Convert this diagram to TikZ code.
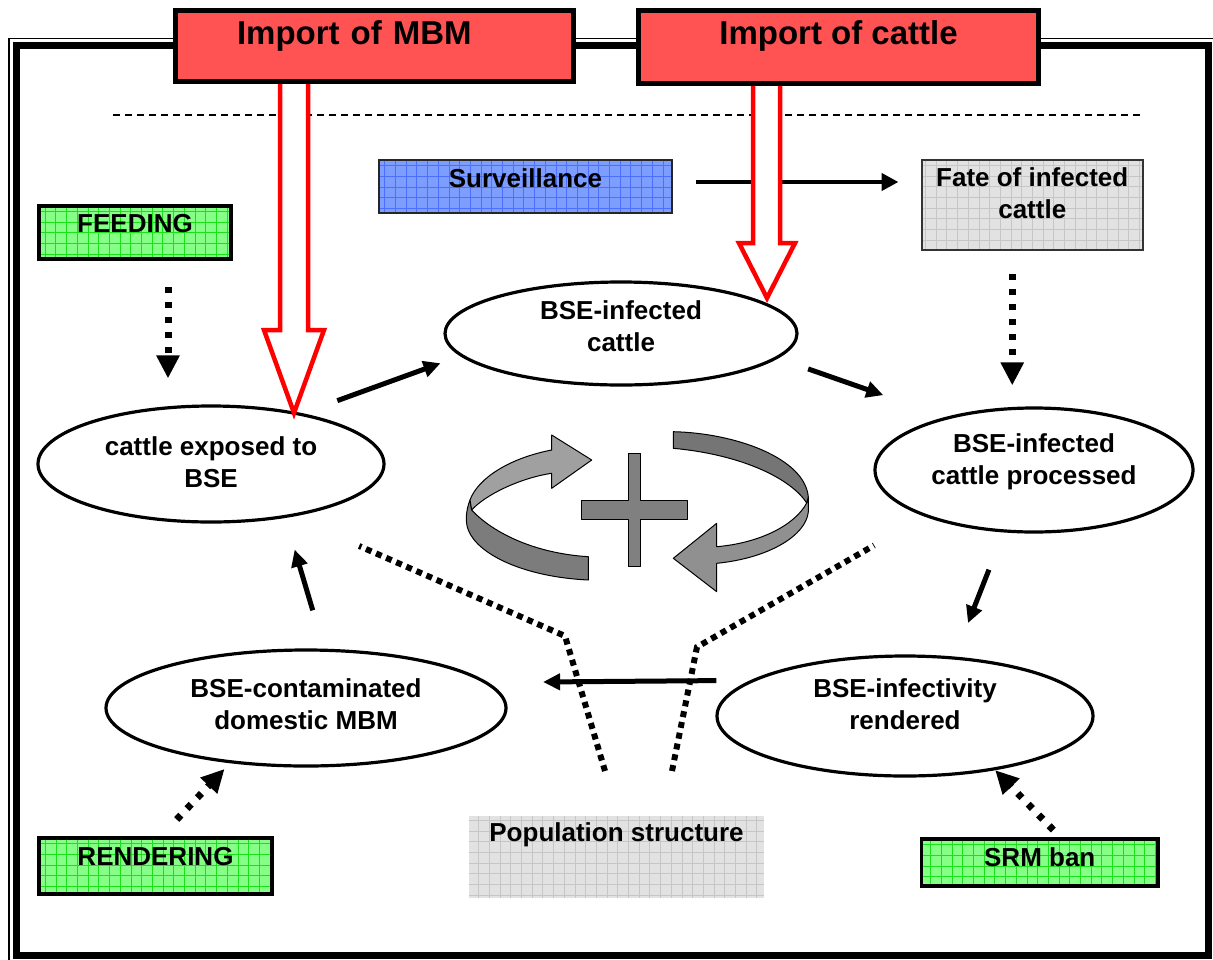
\documentclass[tikz,border=0pt]{standalone}
\usepackage{fontspec}
\setmainfont{Liberation Sans}
\usetikzlibrary{arrows.meta,shapes.geometric}
\definecolor{ImportRed}{HTML}{FF5353}
\definecolor{ArrowRed}{HTML}{FF0000}
\definecolor{FeedGreen}{HTML}{86FF86}
\definecolor{GridGreen}{HTML}{19E019}
\definecolor{SurvBlue}{HTML}{7D9DFF}
\definecolor{GridBlue}{HTML}{4D6FFF}
\definecolor{PaleGray}{HTML}{E2E2E2}
\definecolor{GridGray}{HTML}{C6C6C6}
\definecolor{RibbonLight}{HTML}{A0A0A0}
\definecolor{RibbonDark}{HTML}{7C7C7C}
\tikzset{gridded/.style={path picture={\draw[#1,line width=.8pt] (path picture bounding box.south west) grid[step=10.7pt] (path picture bounding box.north east);}},
  titlebox/.style={draw=black,line width=5pt,fill=ImportRed,inner ysep=4pt,font=\bfseries\fontsize{33}{38}\selectfont},
  greenbox/.style={draw=black,line width=3.6pt,fill=FeedGreen,gridded=GridGreen,inner ysep=3pt},
  bluebox/.style={draw=black!85,line width=2pt,fill=SurvBlue,gridded=GridBlue,inner ysep=3pt},
  graybox/.style={draw=black!80,line width=2pt,fill=PaleGray,gridded=GridGray,inner ysep=3pt},
  stage/.style={draw=black,line width=3.2pt,ellipse,inner sep=0pt,text height=20pt},
  arr/.style={line width=5pt,-{Triangle[length=17pt,width=16pt]}},
  survarr/.style={line width=4.5pt,-{Triangle[length=17pt,width=17pt]}},
  dotarr/.style={line width=7pt,dash pattern=on 6pt off 9pt,-{Triangle[length=23pt,width=22pt]}},
  popline/.style={line width=6pt,dash pattern=on 6pt off 5pt},
  divider/.style={line width=1.3pt,dash pattern=on 7pt off 5pt},
  hollow/.style={draw=ArrowRed,line width=4.5pt,fill=white},
  ribbon/.style={draw=black,line width=1pt,line join=round}}
\begin{document}
\begin{tikzpicture}[x=1pt,y=-1pt,font=\bfseries\fontsize{26}{32}\selectfont]
\useasboundingbox (0,0) rectangle (1213,959);
\draw[line width=7pt] (16,45.5) rectangle (1208.5,955.5);
\draw[line width=1.8pt] (9,990) -- (9,38.5) -- (1240,38.5);
\draw[divider] (113,115) -- (1141,115);

\node[bluebox,minimum width=293pt,text height=24pt,text depth=23pt] (surv) at (525.5,186.5) {Surveillance};
\node[graybox,minimum width=221.5pt,text height=23.7pt,text depth=60.3pt] (fate) at (1032.25,205) {\begin{tabular}[t]{@{}c@{}}Fate of infected\\cattle\end{tabular}};
\node[greenbox,line width=4.3pt,minimum width=192pt,text height=23.7pt,text depth=23.3pt] (feed) at (135,232.5) {FEEDING};
\node[greenbox,minimum width=233pt,text height=24pt,text depth=26pt] (rend) at (155.5,866) {RENDERING};
\node[greenbox,minimum width=236.5pt,text height=24pt,text depth=17pt] (srm) at (1039.75,862.5) {SRM ban};
\node[graybox,draw=none,minimum width=295pt,text height=22.7pt,text depth=53.3pt] (pop) at (616.5,857) {Population structure};

\node[stage,minimum width=346pt,minimum height=116pt,text depth=38pt] (exposed) at (211,464) {\begin{tabular}[t]{@{}c@{}}cattle exposed to\\BSE\end{tabular}};
\node[stage,minimum width=352pt,minimum height=103pt,text depth=49pt] (infected) at (621,333.5) {\begin{tabular}[t]{@{}c@{}}BSE-infected\\cattle\end{tabular}};
\node[stage,minimum width=318pt,minimum height=124pt,text depth=55pt] (processed) at (1034,470) {\begin{tabular}[t]{@{}c@{}}BSE-infected\\cattle processed\end{tabular}};
\node[stage,minimum width=376pt,minimum height=120pt,text depth=58pt] (rendered) at (905,716) {\begin{tabular}[t]{@{}c@{}}BSE-infectivity\\rendered\end{tabular}};
\node[stage,minimum width=400pt,minimum height=116pt,text depth=42pt] (mbmdom) at (306,708) {\begin{tabular}[t]{@{}c@{}}BSE-contaminated\\domestic MBM\end{tabular}};

\draw[arr,shorten <=37pt,shorten >=21pt] (exposed.29.6) -- (infected.188.8);
\draw[arr,shorten <=32pt,shorten >=66pt] (infected.351.8) -- (processed.149);
\draw[arr,shorten <=40pt,shorten >=36pt] (processed.244.6) -- (rendered.50);
\draw[arr,shorten <=34pt,shorten >=55pt] (rendered.167.1) -- (mbmdom.8.7);
\draw[arr,shorten <=40pt,shorten >=33pt] (mbmdom.73.6) -- (exposed.324.3);
\draw[survarr,shorten <=23pt,shorten >=22pt] ([yshift=4.5pt]surv.east) -- ([yshift=4.5pt]surv.east -| fate.west);

\draw[dotarr,shorten <=26pt,shorten >=26pt] ([xshift=33pt]feed.south) -- ([xshift=33pt]feed.south |- exposed.north);
\draw[dotarr,shorten <=23pt,shorten >=21pt] ([xshift=-20pt]fate.south) -- ([xshift=-20pt]fate.south |- processed.north);
\draw[dotarr,shorten <=23pt,shorten >=8pt] ([xshift=5.4pt]rend.north) -- (mbmdom.216.3);
\draw[dotarr,shorten <=10pt] ([xshift=20.5pt]srm.north) -- (rendered.329.6);
\draw[popline,shorten >=73pt] ([xshift=-11.5pt,yshift=44pt]pop.north) -- ++(-40,-135) -- (exposed.327.4);
\draw[popline,shorten >=58pt] ([xshift=55.5pt,yshift=44pt]pop.north) -- ++(25,-124) -- (processed.203.4);

\filldraw[ribbon,fill=RibbonDark] (470,500) .. controls (466,510) and (465,522) .. (468.3,530) .. controls (478,555) and (525,577) .. (588.3,580) -- (588.3,556.7) .. controls (530,553) and (490,530) .. (471.7,510) -- cycle;
\filldraw[ribbon,fill=RibbonLight] (470,500) .. controls (478,478) and (510,458) .. (551.7,450) -- (551.7,435) -- (591.7,460) -- (551.7,488.3) -- (551.7,473.3) .. controls (520,478) and (485,495) .. (471.7,510) -- cycle;
\filldraw[ribbon,fill=RibbonLight!90!black] (806.7,503) .. controls (795,525) and (760,543) .. (716.7,546.7) -- (716.7,523.3) -- (673.3,558.3) -- (716.7,591.7) -- (716.7,563.3) .. controls (770,558) and (806,535) .. (808.3,512) -- (808.3,497) -- cycle;
\filldraw[ribbon,fill=RibbonDark!105] (673.3,431.7) .. controls (735,433) and (805,458) .. (808.3,497) -- (806.7,503) .. controls (792,480) and (745,455) .. (673.3,448.3) -- cycle;
\filldraw[ribbon,fill=gray] (628,453) -- (640.7,453) -- (640.7,500) -- (687.3,500) -- (687.3,519) -- (640.7,519) -- (640.7,566) -- (628,566) -- (628,519) -- (581.7,519) -- (581.7,500) -- (628,500) -- cycle;

\filldraw[hollow] (280,84) -- (280,330) -- (264,330) -- (294,413) -- (324,330) -- (308,330) -- (308,84);
\filldraw[hollow] (753,85) -- (753,243) -- (739,243) -- (767,298) -- (795,243) -- (780,243) -- (780,85);
\node[titlebox,text width=275pt,inner xsep=61.5pt,align=left,text height=30pt,text depth=33pt] (mbm) at (374.5,46) {Import of MBM};
\node[titlebox,minimum width=400pt,text height=29.8pt,text depth=35.2pt] (cattle) at (838.5,47) {Import of cattle};
\end{tikzpicture}
\end{document}
